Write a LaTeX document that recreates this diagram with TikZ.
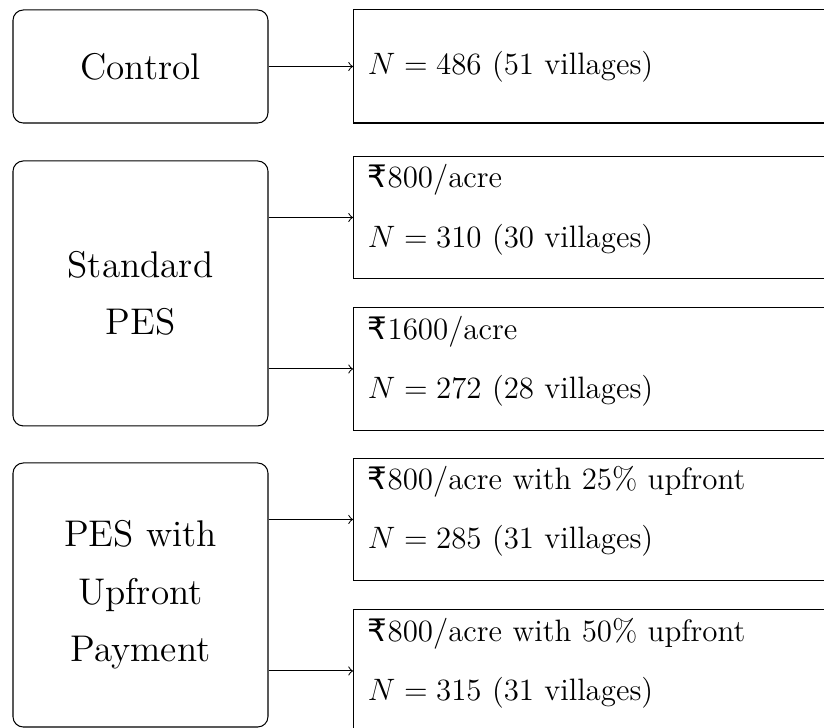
\documentclass[tikz,border=0pt]{standalone}
\usepackage{fontspec}
\newfontfamily\rupeefont{DejaVu Sans}
\newcommand{\rs}{{\rupeefont ₹}}
\newcommand{\vbal}{\rule[-0.75em]{0pt}{0pt}}

\tikzset{
  group/.style={draw, rounded corners, minimum width=3.474cm, align=center,
    font=\fontsize{14.4}{22.3}\selectfont},
  arm/.style={draw, anchor=west, text width=8.6cm, inner xsep=5.6pt,
    minimum height=1.58cm, align=left, font=\fontsize{12}{22.9}\selectfont}
}

\begin{document}
\begin{tikzpicture}

\useasboundingbox (0,0) rectangle (11.226,9.918);
\clip (0,0) rectangle (11.226,9.918);

%% The treatment groups
\node [group, minimum height=1.540cm] (ctrl) at (1.914,9.012) {Control};
\node [group, minimum height=3.610cm] (std) at (1.914,5.920) {Standard\\PES};
\node [group, minimum height=3.597cm] (upf) at (1.914,1.812) {PES with\\Upfront\\Payment};

%% The arms with sample sizes
\node [arm, minimum height=1.540cm] (ctrlN) at (4.809,9.012) {$N=486$ (51 villages)};
\node [arm] (std800) at (4.809,6.955) {\rs800/acre\\$N=310$ (30 villages)\vbal};
\node [arm] (std1600) at (4.809,4.891) {\rs1600/acre\\$N=272$ (28 villages)\vbal};
\node [arm] (upf25) at (4.809,2.841) {\rs800/acre with 25\% upfront\\$N=285$ (31 villages)\vbal};
\node [arm] (upf50) at (4.809,0.777) {\rs800/acre with 50\% upfront\\$N=315$ (31 villages)\vbal};

%% The arrows
\draw [->] (ctrl.east) -- (ctrlN.west);
\draw [->] (std800.west -| std.east) -- (std800.west);
\draw [->] (std1600.west -| std.east) -- (std1600.west);
\draw [->] (upf25.west -| upf.east) -- (upf25.west);
\draw [->] (upf50.west -| upf.east) -- (upf50.west);

\end{tikzpicture}
\end{document}
